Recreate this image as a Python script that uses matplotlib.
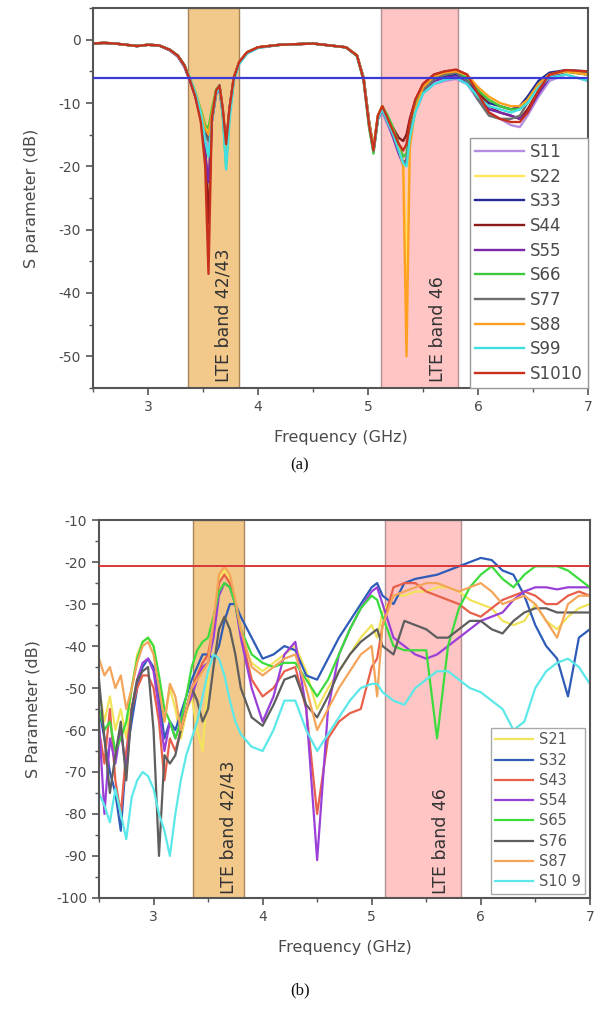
"""S-parameter plots: (a) reflection coefficients, (b) coupling between ports."""

import matplotlib
matplotlib.use("Agg")
import matplotlib.pyplot as plt
from matplotlib.ticker import MultipleLocator

plt.rcParams["font.family"] = ["DejaVu Sans"]
plt.rcParams["axes.unicode_minus"] = False

TEXT = "#4a4a4a"
SPINE = "#555555"

# ---------------- panel (a): reflection ----------------
freq_a = [2.5, 2.6, 2.7, 2.8, 2.9, 3.0, 3.1, 3.2, 3.27, 3.33, 3.38, 3.43, 3.48, 3.52,
          3.55, 3.58, 3.62, 3.65, 3.68, 3.71, 3.74, 3.78, 3.83, 3.9, 4.0, 4.2, 4.5,
          4.8, 4.9, 4.96, 5.01, 5.05, 5.09, 5.13, 5.18, 5.23, 5.28, 5.32, 5.35, 5.38,
          5.43, 5.5, 5.6, 5.7, 5.8, 5.9, 6.0, 6.1, 6.2, 6.3, 6.38, 6.45, 6.55, 6.65,
          6.8, 7.0]

s11 = [-0.6, -0.5, -0.6, -0.8, -1.0, -0.8, -0.9, -1.7, -2.7, -4.3, -6.5, -9.0, -12.5, -16,
       -17, -12.5, -8.5, -8.0, -12, -18, -12, -6.5, -3.8, -2.2, -1.3, -0.8, -0.6,
       -1.2, -2.5, -6.5, -13.5, -17.5, -12.5, -11.5, -13.5, -15.5, -18, -20, -19, -15,
       -11.5, -8.5, -7, -6.5, -6.2, -7, -9.5, -11.5, -12.5, -13.5, -13.8, -12, -9, -6.5,
       -5.5, -6.5]
s22 = [-0.6, -0.5, -0.6, -0.8, -1.0, -0.8, -0.9, -1.6, -2.5, -4.0, -6.0, -8.3, -11, -13.5,
       -14.5, -11.5, -8, -7.5, -11.5, -17.5, -11.5, -6, -3.5, -2, -1.2, -0.8, -0.6,
       -1.2, -2.4, -6, -13, -17, -12, -10.5, -12.5, -14.5, -17, -19.5, -37, -16,
       -11, -8, -6.3, -5.5, -5.2, -6, -8, -9.5, -10.5, -11, -11, -10, -7.5, -6,
       -5.2, -5.5]
s33 = [-0.6, -0.5, -0.6, -0.8, -1.0, -0.8, -0.9, -1.6, -2.5, -4.0, -6.2, -8.5, -11.5, -14.5,
       -15.5, -12, -8, -7.2, -11, -17, -11, -6, -3.5, -2, -1.2, -0.8, -0.6,
       -1.2, -2.5, -6, -13, -17.5, -12.5, -11, -13, -15, -17.5, -19.5, -19.5, -15,
       -11, -8, -6.5, -5.8, -5.5, -6.5, -8.5, -10, -10.5, -11, -10.5, -9, -6.5, -5.2,
       -4.8, -5.0]
s44 = [-0.6, -0.5, -0.6, -0.8, -1.0, -0.8, -0.9, -1.6, -2.5, -4.0, -6.3, -8.8, -12, -17,
       -29, -13, -8.2, -7.5, -11.5, -17.5, -11.5, -6.2, -3.6, -2, -1.2, -0.8, -0.6,
       -1.2, -2.5, -6.2, -13, -17, -12, -10.5, -12.5, -14, -15.5, -16, -15, -12.5,
       -9.5, -7, -5.5, -5, -4.8, -5.5, -8, -10.5, -11.5, -12, -12.5, -11, -8, -5.5,
       -4.8, -5.2]
s55 = [-0.6, -0.5, -0.6, -0.8, -1.0, -0.8, -0.9, -1.7, -2.6, -4.2, -6.4, -9, -12.5, -18,
       -22.5, -13, -8.5, -7.8, -11.5, -17, -11, -6, -3.5, -2, -1.2, -0.8, -0.6,
       -1.2, -2.5, -6.3, -13.5, -17.5, -12.5, -11, -13, -15.5, -18, -19.5, -19, -15,
       -11, -8, -6.5, -6, -5.8, -6.8, -9, -11, -11.5, -12, -12.5, -11.5, -8.5, -6,
       -5, -5.5]
s66 = [-0.6, -0.5, -0.6, -0.8, -1.0, -0.8, -0.9, -1.6, -2.5, -4.0, -6.0, -8.3, -11, -13.5,
       -14, -11, -7.8, -7.3, -12, -20, -12, -6.2, -3.6, -2, -1.2, -0.8, -0.6,
       -1.2, -2.6, -6.5, -14, -18, -12.5, -10.5, -12, -14, -16.5, -18.5, -18, -14,
       -10, -7.5, -6, -5.5, -5.2, -6, -8, -9.5, -10.5, -11, -11, -9.5, -7, -5.5,
       -5, -5.5]
s77 = [-0.6, -0.5, -0.6, -0.8, -1.0, -0.8, -0.9, -1.6, -2.5, -4.1, -6.2, -8.6, -11.8, -15,
       -16, -12, -8.2, -7.6, -11.5, -17.5, -11.5, -6.2, -3.6, -2.1, -1.2, -0.8, -0.6,
       -1.2, -2.5, -6, -13, -17.5, -12.5, -11, -13, -15, -17.5, -19.5, -19, -15,
       -11, -8, -6.3, -5.5, -5.2, -6.5, -9.5, -12, -12.5, -12.5, -12, -10, -7, -5.5,
       -4.8, -5.2]
s88 = [-0.6, -0.5, -0.6, -0.8, -1.0, -0.8, -0.9, -1.6, -2.5, -4.0, -6.0, -8.4, -11.2, -14,
       -15, -11.8, -8, -7.4, -11.2, -17.2, -11.2, -6, -3.5, -2, -1.2, -0.8, -0.6,
       -1.2, -2.4, -6, -13, -17, -12, -10.5, -12.5, -14.5, -17, -20, -50, -17,
       -11, -7.5, -5.8, -5.2, -5, -5.5, -7.5, -9, -10, -10.5, -10.5, -9.5, -7, -5.5,
       -5, -5.5]
s99 = [-0.6, -0.5, -0.6, -0.8, -1.0, -0.8, -0.9, -1.6, -2.5, -4.0, -6.0, -8.4, -11.5, -16,
       -18.5, -13, -8.5, -7.5, -12, -20.5, -13, -6.5, -3.8, -2.2, -1.3, -0.8, -0.6,
       -1.2, -2.5, -6.2, -13.5, -17.5, -12.5, -11, -13, -15, -17.5, -19.5, -20, -15.5,
       -11.5, -8.5, -7, -6.3, -6, -7, -9, -10.5, -11, -11.5, -11, -10, -7.5, -6,
       -5.5, -6.5]
s1010 = [-0.6, -0.5, -0.6, -0.8, -1.0, -0.8, -0.9, -1.6, -2.5, -4.0, -6.3, -9, -13, -20,
         -37, -12.5, -8, -7.3, -11, -16.5, -11, -6, -3.5, -2, -1.2, -0.8, -0.6,
         -1.2, -2.5, -6.3, -13.5, -17.5, -12, -10.5, -12.5, -14.5, -16.5, -17.5, -16.5, -13,
         -9.5, -7, -5.5, -5, -4.7, -5.5, -8.5, -11.5, -12.5, -13, -13, -11.5, -8, -5.5,
         -4.8, -5]

labels_a = ["S11", "S22", "S33", "S44", "S55", "S66", "S77", "S88", "S99", "S1010"]
series_a = [s11, s22, s33, s44, s55, s66, s77, s88, s99, s1010]
colors_a = ["#b48ce0", "#ffe45c", "#262a94", "#8b1a1a", "#7a28a8",
            "#3ec83e", "#6e6e6e", "#ffa020", "#40e0e0", "#c8301e"]
limit_a = -6

# ---------------- panel (b): coupling ----------------
freq_b = [2.5, 2.55, 2.6, 2.65, 2.7, 2.75, 2.8, 2.85, 2.9, 2.95, 3.0, 3.05, 3.1, 3.15,
          3.2, 3.25, 3.3, 3.35, 3.4, 3.45, 3.5, 3.55, 3.6, 3.65, 3.7, 3.75, 3.8, 3.9,
          4.0, 4.1, 4.2, 4.3, 4.4, 4.5, 4.6, 4.7, 4.8, 4.9, 5.0, 5.05, 5.1, 5.2, 5.3,
          5.4, 5.5, 5.6, 5.7, 5.8, 5.9, 6.0, 6.1, 6.2, 6.3, 6.4, 6.5, 6.6, 6.7, 6.8,
          6.9, 7.0]

s21 = [-50, -58, -52, -60, -55, -62, -50, -42, -39, -38, -40, -48, -58, -50,
       -55, -62, -56, -52, -60, -65, -48, -35, -24, -22, -24, -30, -38, -44,
       -46, -44, -42, -40, -46, -55, -50, -46, -42, -38, -35, -38, -32, -28, -28,
       -27, -27, -26, -26, -27, -29, -30, -31, -34, -35, -34, -30, -34, -36, -33,
       -31, -30]
s32 = [-55, -62, -70, -75, -84, -66, -58, -50, -45, -43, -45, -52, -62, -58,
       -60, -56, -52, -48, -45, -42, -42, -43, -40, -34, -30, -30, -33, -38,
       -43, -42, -40, -41, -47, -48, -43, -38, -34, -30, -26, -25, -28, -30, -25,
       -24, -23.5, -23, -22, -21, -20, -19, -19.5, -22, -23, -28, -35, -40, -43, -52,
       -38, -36]
s43 = [-60, -68, -55, -72, -80, -65, -55, -50, -47, -47, -50, -58, -72, -62,
       -65, -60, -55, -50, -47, -44, -42, -35, -25, -23, -25, -30, -37, -48,
       -52, -50, -46, -45, -55, -80, -62, -58, -56, -55, -45, -43, -35, -26, -25,
       -25, -27, -28, -29, -30, -32, -33, -31, -29, -28, -27, -28, -30, -30, -28,
       -27, -28]
s54 = [-58, -80, -62, -68, -60, -70, -55, -48, -44, -43, -46, -55, -65, -58,
       -62, -58, -55, -52, -48, -45, -44, -38, -28, -25, -26, -30, -38, -50,
       -58, -52, -42, -39, -55, -91, -55, -42, -36, -31, -27, -26, -30, -38, -40,
       -42, -43, -42, -40, -38, -36, -34, -33, -32, -29, -27, -26, -26, -26.5, -26,
       -26, -26]
s65 = [-55, -60, -58, -65, -62, -58, -50, -43, -39, -38, -40, -47, -55, -58,
       -62, -58, -52, -45, -41, -39, -38, -33, -27, -25, -26, -30, -36, -42,
       -44, -45, -44, -44, -48, -52, -48, -42, -36, -31, -28, -29, -33, -40, -41,
       -41, -41, -62, -40, -31, -26, -23, -21, -24, -26, -23, -21, -21, -21, -22,
       -24, -26]
s76 = [-48, -62, -75, -66, -58, -72, -55, -48, -46, -45, -60, -90, -66, -68,
       -66, -60, -55, -50, -53, -58, -55, -45, -36, -33, -36, -42, -50, -57,
       -59, -54, -48, -47, -54, -57, -52, -46, -42, -39, -37, -36, -40, -42, -34,
       -35, -36, -38, -38, -36, -34, -34, -36, -37, -34, -32, -31, -31, -32, -32,
       -32, -32]
s87 = [-43, -47, -45, -50, -47, -55, -50, -44, -40, -39, -42, -50, -58, -49,
       -52, -60, -55, -50, -48, -46, -44, -34, -23, -21, -23, -29, -36, -45,
       -47, -45, -43, -42, -50, -60, -55, -50, -46, -42, -40, -52, -35, -28, -27,
       -26, -25, -25, -26, -27, -26, -25, -27, -30, -29, -28, -30, -34, -38, -30,
       -28, -28]
s109 = [-75, -78, -82, -74, -80, -86, -76, -72, -70, -71, -74, -80, -84, -90,
        -80, -72, -66, -62, -58, -52, -46, -42, -43, -47, -53, -58, -61, -64,
        -65, -60, -53, -53, -60, -65, -61, -57, -53, -50, -49, -49, -51, -53, -54,
        -50, -48, -46, -46, -48, -50, -51, -53, -55, -60, -58, -50, -46, -44, -43,
        -45, -49]

labels_b = ["S21", "S32", "S43", "S54", "S65", "S76", "S87", "S10 9"]
series_b = [s21, s32, s43, s54, s65, s76, s87, s109]
colors_b = ["#f2e45a", "#2e5cb8", "#e8604c", "#9a40d8",
            "#3cdc3c", "#5e5e5e", "#f5a55a", "#5ce8e8"]
limit_b = -21

bands = [(3.36, 3.83, "#f3c98b", "#a88458", "LTE band 42/43", 3.69),
         (5.12, 5.82, "#ffc4c4", "#b09090", "LTE band 46", 5.64)]


def style_axes(ax, ylim, yminor):
    ax.set_xlim(2.5, 7)
    ax.set_ylim(*ylim)
    ax.xaxis.set_major_locator(MultipleLocator(1))
    ax.xaxis.set_minor_locator(MultipleLocator(0.5))
    ax.yaxis.set_minor_locator(MultipleLocator(yminor))
    ax.tick_params(which="major", length=5, width=1.2, color=SPINE,
                   labelsize=10, labelcolor=TEXT, direction="out")
    ax.tick_params(which="minor", length=3, width=1.0, color=SPINE, direction="out")
    for sp in ax.spines.values():
        sp.set_color(SPINE)
        sp.set_linewidth(1.5)
    ax.set_xlabel("Frequency (GHz)", fontsize=11.5, color=TEXT, labelpad=12)


def draw_bands(ax, y_text):
    for lo, hi, face, edge, text, xt in bands:
        ax.axvspan(lo, hi, facecolor=face, edgecolor=edge, linewidth=1.0, zorder=0)
        ax.text(xt, y_text, text, rotation=90, ha="center", va="bottom",
                fontsize=12.5, color="#333333", zorder=5)


fig = plt.figure(figsize=(6, 10.1), dpi=100)

# (a)
ax1 = fig.add_axes([0.155, 0.616, 0.825, 0.376])
draw_bands(ax1, -54)
for y, lab, c in zip(series_a, labels_a, colors_a):
    ax1.plot(freq_a, y, color=c, lw=1.7, label=lab, zorder=2)
ax1.axhline(limit_a, color="#3a3ad8", lw=1.6, zorder=3)
style_axes(ax1, (-55, 5), 5)
ax1.set_yticks([0, -10, -20, -30, -40, -50])
ax1.set_ylabel("S parameter (dB)", fontsize=11.5, color=TEXT, labelpad=14)
leg1 = ax1.legend(loc="lower right", bbox_to_anchor=(1, 0), borderaxespad=0,
                  fontsize=12, labelspacing=0.4, handlelength=2.9,
                  handletextpad=0.4, borderpad=0.3, fancybox=False,
                  edgecolor="#999999", framealpha=1, labelcolor=TEXT)
leg1.get_frame().set_linewidth(1.0)
leg1.set_zorder(6)

# (b)
ax2 = fig.add_axes([0.165, 0.111, 0.818, 0.374])
draw_bands(ax2, -99)
for y, lab, c in zip(series_b, labels_b, colors_b):
    ax2.plot(freq_b, y, color=c, lw=1.6, label=lab, zorder=2)
ax2.axhline(limit_b, color="#d83a3a", lw=1.4, zorder=3)
style_axes(ax2, (-100, -10), 5)
ax2.set_yticks(list(range(-100, -9, 10)))
ax2.set_ylabel("S Parameter (dB)", fontsize=11.5, color=TEXT, labelpad=11)
leg2 = ax2.legend(loc="lower right", bbox_to_anchor=(1, 0), borderaxespad=0.3,
                  fontsize=10.5, labelspacing=0.36, handlelength=2.6,
                  handletextpad=0.4, borderpad=0.3, fancybox=False,
                  edgecolor="#aaaaaa", framealpha=1, labelcolor="#555555")
leg2.get_frame().set_linewidth(1.0)
leg2.set_zorder(6)

fig.text(0.5, 1 - 465 / 1010, "(a)", ha="center", va="center",
         fontsize=12, family="Liberation Serif", color="#111111")
fig.text(0.5, 1 - 990 / 1010, "(b)", ha="center", va="center",
         fontsize=12, family="Liberation Serif", color="#111111")

fig.savefig("out.png", dpi=100)
